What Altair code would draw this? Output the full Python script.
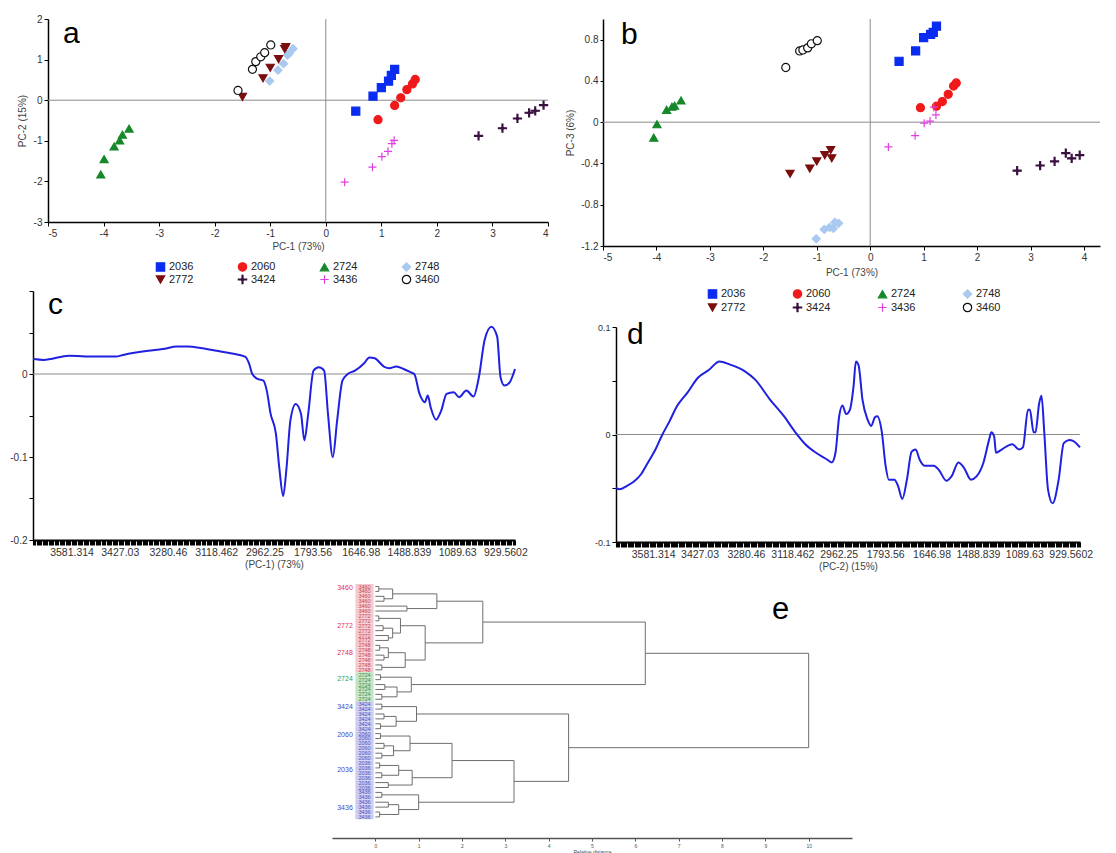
import altair as alt
import pandas as pd

FONT = "Liberation Sans"

# ---------------- PCA scores ----------------
GROUPS = ["2036", "2060", "2724", "2748", "2772", "3424", "3436", "3460"]
FILL_COLORS = ["#0a2cf0", "#f01a1a", "#17882a", "#a9c9f0", "#7a0d0d", "#3a1040", "transparent", "white"]
STROKE_COLORS = ["#0a2cf0", "#f01a1a", "#17882a", "#a9c9f0", "#7a0d0d", "#3a1040", "#e040e0", "#111111"]
SHAPES = ["square", "circle", "triangle-up", "diamond", "triangle-down",
          "M-1,-0.12L-0.3,-0.12L0,-0.4L0.3,-0.12L1,-0.12L1,0.12L0.3,0.12L0,0.4L-0.3,0.12L-1,0.12Z"
          "M-0.12,-1L0.12,-1L0.12,1L-0.12,1Z",
          "M-1,0L1,0M0,-1L0,1", "circle"]

PC1 = {
    "2036": [0.54, 0.85, 1.00, 1.13, 1.18, 1.24],
    "2060": [0.94, 1.24, 1.35, 1.46, 1.56, 1.61],
    "2724": [-4.05, -3.99, -3.81, -3.71, -3.66, -3.54],
    "2748": [-1.01, -0.86, -0.76, -0.69, -0.66, -0.59],
    "2772": [-1.50, -1.13, -1.00, -0.85, -0.74, -0.72],
    "3424": [2.75, 3.18, 3.45, 3.66, 3.77, 3.92],
    "3436": [0.34, 0.84, 1.01, 1.12, 1.19, 1.23],
    "3460": [-1.58, -1.32, -1.26, -1.17, -1.10, -0.99],
}
PC2 = {
    "2036": [-0.27, 0.10, 0.31, 0.47, 0.61, 0.76],
    "2060": [-0.48, -0.13, 0.06, 0.26, 0.40, 0.51],
    "2724": [-1.83, -1.45, -1.14, -0.99, -0.85, -0.70],
    "2748": [0.47, 0.74, 0.90, 1.11, 1.15, 1.27],
    "2772": [0.08, 0.54, 0.80, 1.01, 1.26, 1.31],
    "3424": [-0.88, -0.69, -0.45, -0.31, -0.26, -0.12],
    "3436": [-2.02, -1.65, -1.39, -1.26, -1.07, -0.99],
    "3460": [0.24, 0.76, 0.95, 1.07, 1.17, 1.36],
}
PC3 = {
    "2036": [0.59, 0.69, 0.82, 0.85, 0.87, 0.93],
    "2060": [0.14, 0.155, 0.20, 0.27, 0.35, 0.38],
    "2724": [-0.15, -0.02, 0.12, 0.15, 0.16, 0.21],
    "2748": [-1.13, -1.04, -1.02, -1.03, -0.97, -0.98],
    "2772": [-0.50, -0.45, -0.38, -0.32, -0.27, -0.35],
    "3424": [-0.47, -0.42, -0.38, -0.30, -0.35, -0.32],
    "3436": [-0.24, -0.13, -0.01, 0.01, 0.145, 0.07],
    "3460": [0.53, 0.69, 0.70, 0.72, 0.76, 0.79],
}

# ---------------- loadings ----------------
WN_LABELS = ["3581.314", "3427.03", "3280.46", "3118.462", "2962.25",
             "1793.56", "1646.98", "1488.839", "1089.63", "929.5602"]

C_IDX = [0, 2.2, 7.5, 12.7, 17.2, 18.7, 23.9, 26.9, 29.9, 32.1, 35.1, 38.1, 41.0, 44.0, 44.8,
         45.5, 46.6, 47.8, 48.5, 49.3, 50.4, 51.1, 51.9, 52.6, 53.4, 54.5, 55.6, 56.3, 57.1, 58.2,
         59.3, 60.4, 61.2, 62.2, 63.1, 64.2, 65.3, 66.8, 68.7, 69.8, 70.9, 72.8, 73.9, 75.4, 76.9,
         78.4, 79.1, 80.2, 81.3, 81.9, 82.5, 83.6, 84.7, 85.8, 87.3, 88.4, 89.9, 91.4, 92.5, 93.7,
         95.1, 96.3, 97.0, 97.8, 98.9, 100]
C_VAL = [0.018, 0.017, 0.022, 0.021, 0.021, 0.023, 0.028, 0.030, 0.033, 0.033, 0.031, 0.028, 0.025,
         0.021, 0.013, 0.0, -0.006, -0.008, -0.02, -0.048, -0.072, -0.113, -0.147, -0.113, -0.056,
         -0.036, -0.048, -0.08, -0.048, 0.004, 0.008, 0.004, -0.048, -0.1, -0.056, -0.008, 0.0,
         0.004, 0.013, 0.02, 0.019, 0.009, 0.007, 0.009, 0.006, 0.002, 0.0, -0.024, -0.034, -0.026,
         -0.04, -0.055, -0.044, -0.024, -0.022, -0.028, -0.02, -0.027, -0.004, 0.041, 0.057, 0.045,
         -0.004, -0.014, -0.01, 0.006]

D_IDX = [0, 0.8, 2.3, 3.8, 5.4, 6.9, 8.5, 10.0, 11.5, 13.1, 15.4, 17.7, 20.0, 22.3, 24.6, 27.7,
         30.0, 33.1, 36.2, 38.5, 40.8, 43.1, 45.4, 46.5, 47.3, 48.1, 48.8, 49.6, 50.4, 51.2, 51.7,
         52.3, 53.1, 54.2, 55.0, 55.8, 56.3, 57.3, 58.1, 58.8, 60.0, 60.8, 61.7, 62.7, 63.7, 64.6,
         65.4, 66.5, 68.5, 69.6, 71.2, 72.3, 73.8, 75.0, 76.5, 77.7, 79.2, 80.4, 80.9, 81.5, 81.9,
         83.1, 85.4, 86.9, 87.7, 88.8, 89.2, 90.0, 90.4, 91.2, 91.7, 92.3, 93.1, 94.1, 95.4, 96.5,
         97.7, 98.5, 100]
D_VAL = [-0.0496, -0.051, -0.048, -0.044, -0.037, -0.026, -0.014, 0.0, 0.012, 0.026, 0.039, 0.053,
         0.060, 0.068, 0.065, 0.059, 0.051, 0.033, 0.017, 0.003, -0.009, -0.017, -0.023, -0.026,
         -0.017, 0.017, 0.027, 0.019, 0.023, 0.045, 0.068, 0.064, 0.033, 0.014, 0.008, 0.016,
         0.017, 0.002, -0.029, -0.042, -0.042, -0.048, -0.060, -0.042, -0.016, -0.014, -0.023,
         -0.029, -0.029, -0.033, -0.043, -0.039, -0.026, -0.031, -0.042, -0.039, -0.026, -0.005,
         0.002, -0.002, -0.017, -0.014, -0.009, -0.014, -0.012, 0.023, 0.023, 0.002, 0.002, 0.029,
         0.036, 0.002, -0.051, -0.064, -0.042, -0.008, -0.005, -0.006, -0.012]

# ---------------- dendrogram ----------------
LEAF_ORDER = ["3460"] * 6 + ["2772"] * 6 + ["2748"] * 6 + ["2724"] * 6 + \
             ["3424"] * 6 + ["2060"] * 6 + ["2036"] * 6 + ["3436"] * 6
MERGES = [
    (0, 1, 0.08), (2, 3, 0.2), ("m0", "m1", 0.4), (4, 5, 0.73), ("m2", "m3", 1.42),
    (6, 7, 0.08), (8, 9, 0.18), (10, 11, 0.3), ("m6", "m7", 0.4), ("m5", "m8", 0.58),
    (12, 13, 0.1), (14, 15, 0.2), ("m10", "m11", 0.3), (16, 17, 0.15), ("m12", "m13", 0.69),
    ("m9", "m14", 1.15),
    ("m4", "m15", 2.48),
    (18, 19, 0.12), (20, 21, 0.22), (22, 23, 0.15), ("m18", "m19", 0.5), ("m17", "m20", 0.83),
    ("m16", "m21", 6.23),
    (24, 25, 0.15), (26, 27, 0.2), (28, 29, 0.12), ("m24", "m25", 0.48), ("m23", "m26", 0.95),
    (30, 31, 0.12), (32, 33, 0.2), (34, 35, 0.15), ("m29", "m30", 0.42), ("m28", "m31", 0.8),
    (36, 37, 0.1), (38, 39, 0.15), ("m33", "m34", 0.54), (40, 41, 0.3), ("m35", "m36", 0.85),
    ("m32", "m37", 1.77),
    (42, 43, 0.15), (44, 45, 0.3), (46, 47, 0.1), ("m40", "m41", 0.54), ("m39", "m42", 1.0),
    ("m38", "m43", 3.2),
    ("m27", "m44", 4.46),
    ("m22", "m45", 10.0),
]
CLUSTER_NAMES = ["3460", "2772", "2748", "2724", "3424", "2060", "2036", "3436"]
CLUSTER_LABEL_POS = [0.3, 8.0, 13.5, 18.9, 24.5, 30.2, 37.5, 45.1]
CLASS_OF = {"3460": "red", "2772": "red", "2748": "red", "2724": "green",
            "3424": "blue", "2060": "blue", "2036": "blue", "3436": "blue"}
CLASSES = ["red", "green", "blue"]
CLASS_TEXT = ["#e0304a", "#2e9e4a", "#4848c8"]
CLASS_BOX = ["#f3c9ce", "#c4e3c4", "#cacaf0"]
CLASS_LEAF = ["#cc4a5c", "#3f8f50", "#5555c0"]

# ======================================================================
rows = []
for g in GROUPS:
    for i in range(6):
        rows.append({"group": g, "pc1": PC1[g][i], "pc2": PC2[g][i], "pc3": PC3[g][i]})
scores = pd.DataFrame(rows)


def lin_axis(values, expr, **kw):
    base = dict(values=values, labelExpr=expr, grid=False, domainColor="#000", domainWidth=1.5,
                tickColor="#000", tickWidth=1, tickSize=4, labelFont=FONT, labelFontSize=10,
                labelColor="#333", labelPadding=2, labelOverlap=False, titleFont=FONT,
                titleFontSize=10, titleFontWeight="normal", titleColor="#444")
    base.update(kw)
    return alt.Axis(**base)


def num_fmt(fmt):
    return "(datum.value < 0 ? '-' : '') + format(abs(datum.value), '%s')" % fmt


INT_EXPR = "abs(round(datum.value*2)) % 2 == 0 ? " + num_fmt("d") + " : ''"


def legend(x, y, colpad, rowpad):
    return alt.Legend(orient="none", legendX=x, legendY=y, columns=4, direction="horizontal",
                      title=None, labelFont=FONT, labelFontSize=11, labelColor="#222",
                      symbolSize=70, symbolStrokeWidth=1.2, columnPadding=colpad,
                      rowPadding=rowpad, labelOffset=3, padding=0)


def score_points(ycol, xs, ys, xaxis, yaxis, leg):
    return alt.Chart(scores).mark_point(opacity=1, strokeWidth=1.2, size=65).encode(
        x=alt.X("pc1:Q", scale=xs, axis=xaxis, title="PC-1 (73%)"),
        y=alt.Y(ycol + ":Q", scale=ys, axis=yaxis),
        shape=alt.Shape("group:N", scale=alt.Scale(domain=GROUPS, range=SHAPES), legend=leg),
        fill=alt.Fill("group:N", scale=alt.Scale(domain=GROUPS, range=FILL_COLORS), legend=leg),
        stroke=alt.Stroke("group:N", scale=alt.Scale(domain=GROUPS, range=STROKE_COLORS), legend=leg),
    )


def letter(t, x, y, size=30):
    return alt.Chart(pd.DataFrame({"t": [t]})).mark_text(
        font=FONT, fontSize=size, align="left", baseline="alphabetic", color="black"
    ).encode(text="t:N", x=alt.value(x), y=alt.value(y))


def zero_rules(xs=None, ys=None):
    out = []
    if ys is not None:
        out.append(alt.Chart(pd.DataFrame({"z": [0]})).mark_rule(color="#8a8a8a", strokeWidth=1)
                   .encode(y=alt.Y("z:Q", scale=ys)))
    if xs is not None:
        out.append(alt.Chart(pd.DataFrame({"z": [0]})).mark_rule(color="#8a8a8a", strokeWidth=1)
                   .encode(x=alt.X("z:Q", scale=xs)))
    return out


def blank(w):
    return alt.Chart(pd.DataFrame({"t": [" "]})).mark_text().encode(text="t:N").properties(width=w, height=1)


# ---------------- panel a ----------------
xs_a = alt.Scale(domain=[-5, 4], nice=False, zero=False)
ys_a = alt.Scale(domain=[-3, 2], nice=False, zero=False)
ax_a_x = lin_axis([round(-5 + 0.5 * i, 1) for i in range(19)], INT_EXPR, titlePadding=3)
ax_a_y = lin_axis([round(-3 + 0.5 * i, 1) for i in range(11)], INT_EXPR, title="PC-2 (15%)",
                  minExtent=36, titleX=-26, titleY=101.5, titleAngle=270,
                  titleAlign="center", titleBaseline="middle")
pts_a = score_points("pc2", xs_a, ys_a, ax_a_x, ax_a_y, legend(107, 242, 41, -3))
panel_a = alt.layer(*zero_rules(xs_a, ys_a), pts_a, letter("a", 15, 24)).properties(width=500, height=203)

# ---------------- panel b ----------------
xs_b = alt.Scale(domain=[-5, 4.3], nice=False, zero=False)
ys_b = alt.Scale(domain=[-1.2, 1.0], nice=False, zero=False)
B_Y_EXPR = ("datum.value > 0.95 ? ' ' : (abs(round(datum.value*10)) % 2 == 0 ? "
            + num_fmt("~g") + " : '')")
ax_b_x = lin_axis([round(-5 + 0.5 * i, 1) for i in range(19)], INT_EXPR, titlePadding=5)
ax_b_y = lin_axis([round(-1.2 + 0.1 * i, 1) for i in range(23)], B_Y_EXPR, title="PC-3 (6%)",
                  minExtent=37, titleX=-33, titleY=113.5, titleAngle=270,
                  titleAlign="center", titleBaseline="middle", tickSize=3)
pts_b = score_points("pc3", xs_b, ys_b, ax_b_x, ax_b_y, legend(104, 269, 44, -1))
panel_b = alt.layer(*zero_rules(xs_b, ys_b), pts_b, letter("b", 18, 25)).properties(width=497, height=227)

# ---------------- panels c, d ----------------
LBL_ARR = "[" + ",".join("'%s'" % s for s in WN_LABELS) + "]"
SPEC_X_EXPR = ("(datum.value >= 8 && (datum.value - 8) % 10 == 0) ? "
               + LBL_ARR + "[(datum.value - 8) / 10] : ''")
SPEC_X_VALUES = [i * 0.25 for i in range(401)]


def spectrum(idx, val, ydom, yvals, ylabel_max, title, ext, w, h, lx, ly, let, yfs):
    df = pd.DataFrame({"idx": idx, "val": val})
    xs = alt.Scale(domain=[0, 100], nice=False, zero=False)
    ys = alt.Scale(domain=ydom, nice=False, zero=False)
    y_expr = ("datum.value < %s && abs(round(datum.value*20)) %% 2 == 0 ? " % ylabel_max
              + num_fmt("~g") + " : ''")
    xaxis = lin_axis(SPEC_X_VALUES, SPEC_X_EXPR, tickSize=5, tickWidth=1.1, domainWidth=2,
                     labelFontSize=10.5, title=title, titleFontSize=10, titlePadding=2)
    yaxis = lin_axis(yvals, y_expr, minExtent=ext, tickSize=4, labelFontSize=yfs)
    line = alt.Chart(df).mark_line(color="#2020e0", strokeWidth=2, interpolate="monotone").encode(
        x=alt.X("idx:Q", scale=xs, axis=xaxis),
        y=alt.Y("val:Q", scale=ys, axis=yaxis, title=None),
    )
    return alt.layer(*zero_rules(None, ys), line, letter(let, lx, ly)).properties(width=w, height=h)


panel_c = spectrum(C_IDX, C_VAL, [-0.2, 0.1], [-0.2, -0.15, -0.1, -0.05, 0, 0.05, 0.1], 0.09,
                   "(PC-1) (73%)", 25, 482, 249, 15, 23, "c", 10)
panel_d = spectrum(D_IDX, D_VAL, [-0.1, 0.1], [-0.1, -0.05, 0, 0.05, 0.1], 0.11,
                   "(PC-2) (15%)", 30, 464, 215, 11, 17, "d", 9)

# ---------------- panel e (dendrogram) ----------------
nodes = {i: (0.0, float(i)) for i in range(len(LEAF_ORDER))}
segs = []
for k, (l, r, hgt) in enumerate(MERGES):
    hl, yl = nodes[l]
    hr, yr = nodes[r]
    segs.append({"x": hl, "x2": hgt, "y": yl, "y2": yl})
    segs.append({"x": hr, "x2": hgt, "y": yr, "y2": yr})
    segs.append({"x": hgt, "x2": hgt, "y": yl, "y2": yr})
    nodes["m%d" % k] = (hgt, (yl + yr) / 2)
segs = pd.DataFrame(segs)

leaves = pd.DataFrame({
    "leaf": list(range(len(LEAF_ORDER))),
    "name": LEAF_ORDER,
    "cls": [CLASS_OF[g] for g in LEAF_ORDER],
})
leaves["y0"] = leaves["leaf"] - 0.5
leaves["y1"] = leaves["leaf"] + 0.5
leaves["bx0"] = -0.46
leaves["bx1"] = -0.04
leaves["tx"] = -0.25
clusters = pd.DataFrame({"name": CLUSTER_NAMES, "pos": CLUSTER_LABEL_POS,
                         "cls": [CLASS_OF[g] for g in CLUSTER_NAMES]})
clusters["tx"] = -0.52

xs_e = alt.Scale(domain=[-1, 11], nice=False, zero=False)
ys_e = alt.Scale(domain=[-2.96, 51.3], nice=False, zero=False, reverse=True)
e_xaxis = alt.Axis(values=list(range(11)), grid=False, domainColor="#555", domainWidth=1.5,
                   tickColor="#555", tickSize=3, labelFont=FONT, labelFontSize=5,
                   labelColor="#555", labelPadding=2, titleFont=FONT, titleFontSize=5,
                   titleFontWeight="normal", titleColor="#444", titlePadding=1,
                   title="Relative distance")

boxes = alt.Chart(leaves).mark_rect(opacity=1).encode(
    x=alt.X("bx0:Q", scale=xs_e, axis=e_xaxis), x2="bx1:Q",
    y=alt.Y("y0:Q", scale=ys_e, axis=None), y2="y1:Q",
    fill=alt.Fill("cls:N", scale=alt.Scale(domain=CLASSES, range=CLASS_BOX), legend=None),
)
leaf_txt = alt.Chart(leaves).mark_text(font=FONT, fontSize=5.5, align="center", baseline="middle").encode(
    x=alt.X("tx:Q", scale=xs_e), y=alt.Y("leaf:Q", scale=ys_e), text="name:N",
    color=alt.Color("cls:N", scale=alt.Scale(domain=CLASSES, range=CLASS_LEAF), legend=None),
)
clus_txt = alt.Chart(clusters).mark_text(font=FONT, fontSize=7, align="right", baseline="middle").encode(
    x=alt.X("tx:Q", scale=xs_e), y=alt.Y("pos:Q", scale=ys_e), text="name:N",
    color=alt.Color("cls:N", scale=alt.Scale(domain=CLASSES, range=CLASS_TEXT), legend=None),
)
tree = alt.Chart(segs).mark_rule(color="#6e6e6e", strokeWidth=1).encode(
    x=alt.X("x:Q", scale=xs_e), x2="x2:Q", y=alt.Y("y:Q", scale=ys_e), y2="y2:Q",
)
panel_e = alt.layer(boxes, leaf_txt, clus_txt, tree, letter("e", 440, 47, 31)).properties(
    width=520, height=266).resolve_scale(color="independent", fill="independent")

IND = dict(shape="independent", fill="independent", stroke="independent", color="independent")

# wrappers shift c and d sideways relative to a and b (plot origins of a column are aligned)
c_wrap = alt.concat(blank(1), panel_c, columns=2, spacing=-41, align="none").resolve_scale(**IND).resolve_legend(**IND)
d_wrap = alt.concat(blank(1), panel_d, columns=2, spacing=-18, align="none").resolve_scale(**IND).resolve_legend(**IND)

left_col = alt.vconcat(panel_a, c_wrap, spacing=-2).resolve_scale(**IND).resolve_legend(**IND)
right_col = alt.vconcat(panel_b, d_wrap, spacing=5).resolve_scale(**IND).resolve_legend(**IND)
top = alt.hconcat(left_col, right_col, spacing=15).resolve_scale(**IND).resolve_legend(**IND)
bottom = alt.hconcat(blank(284), panel_e, spacing=0).resolve_scale(**IND).resolve_legend(**IND)

chart = alt.vconcat(top, bottom, spacing=-8).resolve_scale(**IND).resolve_legend(**IND).properties(
    padding={"left": 0, "top": 6, "right": 0, "bottom": 0}
).configure(font=FONT).configure_view(strokeWidth=0)

chart.save("out.html", embed_options={"renderer": "svg", "actions": False})
